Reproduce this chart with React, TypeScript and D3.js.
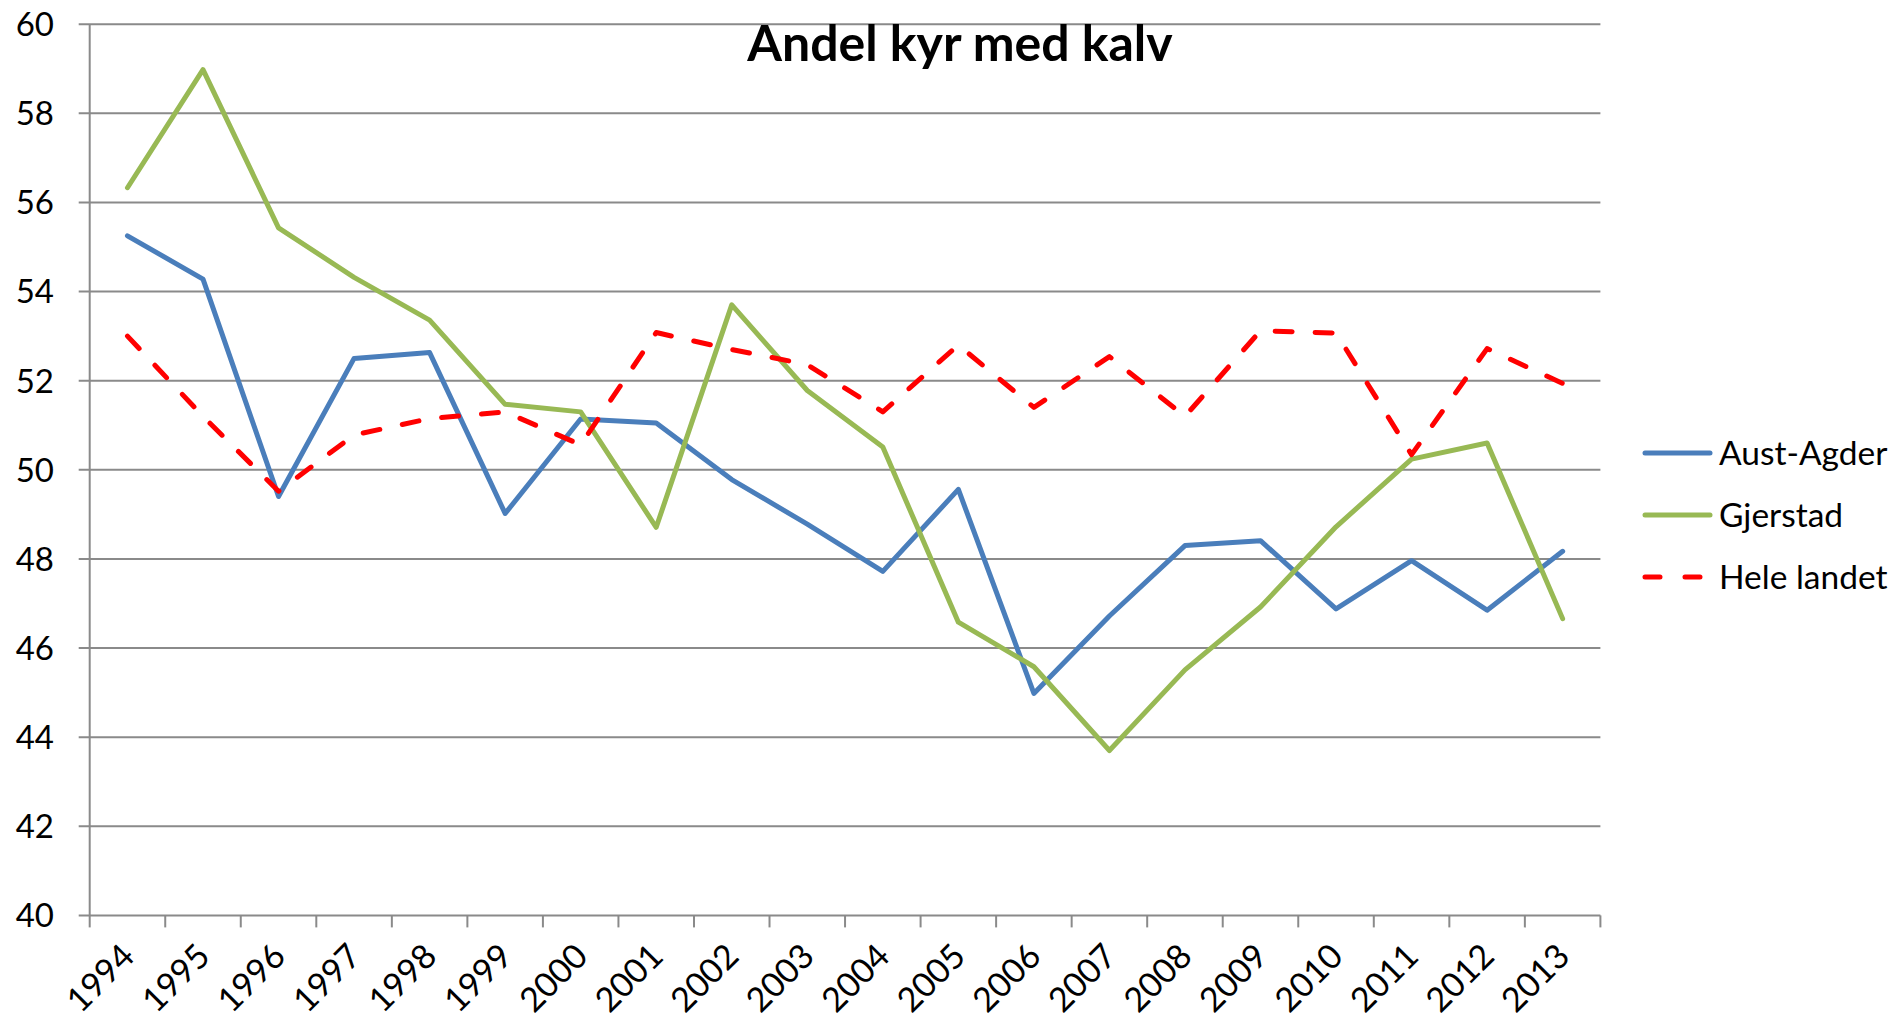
import { useRef, useEffect } from 'react'
import * as d3 from 'd3'

const years = ['1994', '1995', '1996', '1997', '1998', '1999', '2000', '2001', '2002', '2003',
  '2004', '2005', '2006', '2007', '2008', '2009', '2010', '2011', '2012', '2013']

const austAgder = [55.25, 54.28, 49.4, 52.5, 52.63, 49.02, 51.14, 51.05, 49.78, 48.78,
  47.72, 49.56, 44.98, 46.72, 48.3, 48.41, 46.88, 47.96, 46.85, 48.17]
const gjerstad = [56.33, 58.98, 55.43, 54.32, 53.36, 51.47, 51.3, 48.71, 53.7, 51.78,
  50.51, 46.58, 45.58, 43.7, 45.51, 46.92, 48.72, 50.24, 50.6, 46.66]
const heleLandet = [53.0, 51.2, 49.52, 50.78, 51.15, 51.3, 50.56, 53.08, 52.7, 52.36,
  51.3, 52.8, 51.4, 52.54, 51.2, 53.12, 53.07, 50.34, 52.72, 51.94]

const yTicks = [40, 42, 44, 46, 48, 50, 52, 54, 56, 58, 60]

const series = [
  { name: 'Aust-Agder', values: austAgder, color: '#4A7EBB', dash: null },
  { name: 'Gjerstad', values: gjerstad, color: '#98B954', dash: null },
  { name: 'Hele landet', values: heleLandet, color: '#FF0000', dash: '17 23' },
]

const W = 1901
const H = 1022
const FONT = 'Lato, Carlito, "Open Sans", sans-serif'
const GRID = '#8a8a8a'

export default function App() {
  const svgRef = useRef<SVGSVGElement>(null)

  useEffect(() => {
    if (!svgRef.current) return
    const svg = d3.select(svgRef.current)
    svg.selectAll('*').remove()

    const left = 89.7, right = 1600.4, top = 24.2, bottom = 915.4
    const x = d3.scaleBand().domain(years).range([left, right]).padding(0)
    const y = d3.scaleLinear().domain([40, 60]).range([bottom, top])
    const cx = (yr: string) => (x(yr) as number) + x.bandwidth() / 2

    // gridlines + y ticks
    svg.append('g').selectAll('line')
      .data(yTicks)
      .join('line')
      .attr('x1', left - 11).attr('x2', right)
      .attr('y1', d => y(d)).attr('y2', d => y(d))
      .attr('stroke', GRID).attr('stroke-width', 2)

    svg.append('g').selectAll('text')
      .data(yTicks)
      .join('text')
      .attr('x', 54).attr('y', d => y(d))
      .attr('dy', '0.36em')
      .attr('text-anchor', 'end')
      .attr('font-family', FONT).attr('font-size', 33)
      .attr('fill', '#000')
      .text(d => d)

    // y axis line
    svg.append('line')
      .attr('x1', left).attr('x2', left).attr('y1', top).attr('y2', bottom)
      .attr('stroke', GRID).attr('stroke-width', 2)

    // x ticks at category boundaries
    const bounds = years.map(yr => x(yr) as number).concat([right])
    svg.append('g').selectAll('line')
      .data(bounds)
      .join('line')
      .attr('x1', d => d).attr('x2', d => d)
      .attr('y1', bottom).attr('y2', bottom + 12)
      .attr('stroke', GRID).attr('stroke-width', 2)

    // x labels
    svg.append('g').selectAll('text')
      .data(years)
      .join('text')
      .attr('transform', d => `translate(${cx(d) + 9},${bottom + 43}) rotate(-45)`)
      .attr('text-anchor', 'end')
      .attr('font-family', FONT).attr('font-size', 34)
      .attr('fill', '#000')
      .text(d => d)

    // lines
    const line = d3.line<number>()
      .x((_, i) => cx(years[i]))
      .y(d => y(d))

    series.forEach(s => {
      svg.append('path')
        .datum(s.values)
        .attr('d', line)
        .attr('fill', 'none')
        .attr('stroke', s.color)
        .attr('stroke-width', 5)
        .attr('stroke-linejoin', 'round')
        .attr('stroke-linecap', 'round')
        .attr('stroke-dasharray', s.dash)
    })

    // title
    svg.append('text')
      .attr('x', 960).attr('y', 61)
      .attr('text-anchor', 'middle')
      .attr('font-family', FONT).attr('font-size', 50).attr('font-weight', 'bold')
      .attr('fill', '#000')
      .text('Andel kyr med kalv')

    // legend
    const lg = svg.append('g')
    series.forEach((s, i) => {
      const ly = 453 + i * 62
      lg.append('line')
        .attr('x1', 1645).attr('x2', 1710)
        .attr('y1', ly).attr('y2', ly)
        .attr('stroke', s.color).attr('stroke-width', 5)
        .attr('stroke-linecap', 'round')
        .attr('stroke-dasharray', s.dash ? '15 25' : null)
      lg.append('text')
        .attr('x', 1719).attr('y', ly)
        .attr('dy', '0.36em')
        .attr('font-family', FONT).attr('font-size', 33.5)
        .attr('fill', '#000')
        .text(s.name)
    })
  }, [])

  return (
    <svg
      ref={svgRef}
      width={W}
      height={H}
      style={{ position: 'absolute', left: 0, top: 0, background: '#fff' }}
      role="img"
      aria-label="Andel kyr med kalv, 1994–2013"
    />
  )
}
